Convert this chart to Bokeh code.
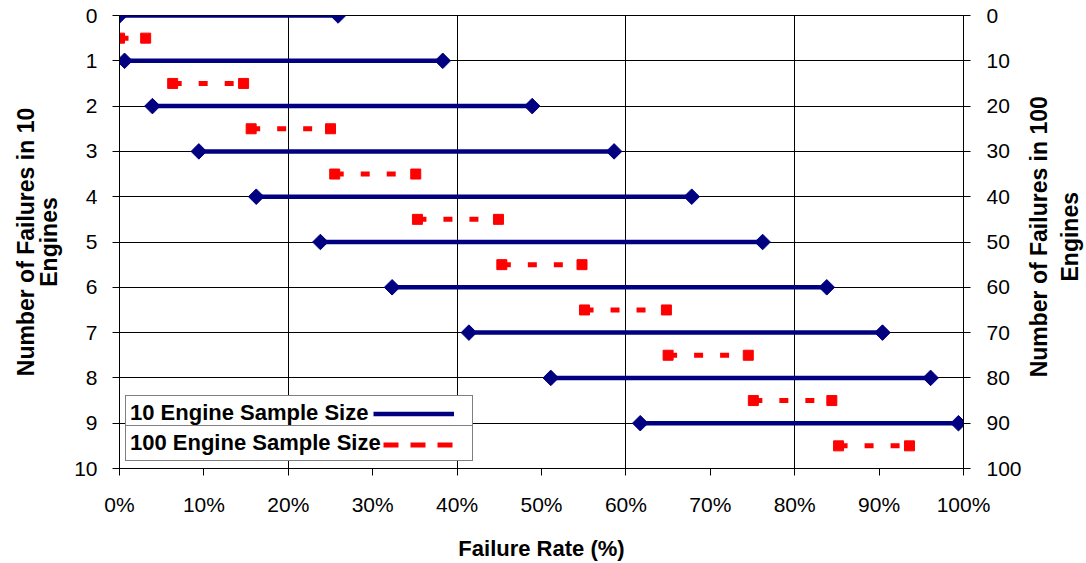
import math
from bokeh.plotting import figure
from bokeh.layouts import row
from bokeh.models import Range1d, LinearAxis, FixedTicker, Legend, LegendItem, ColumnDataSource, Label
from bokeh.embed import file_html
from bokeh.resources import INLINE

# ---------------- data ----------------
x_ticks = [0, 10, 20, 30, 40, 50, 60, 70, 80, 90, 100]
x_tick_labels = ["0%", "10%", "20%", "30%", "40%", "50%", "60%", "70%", "80%", "90%", "100%"]
x_grid_ticks = [20, 40, 60, 80]
left_ticks = [0, 1, 2, 3, 4, 5, 6, 7, 8, 9, 10]
right_ticks = [0, 10, 20, 30, 40, 50, 60, 70, 80, 90, 100]

ten_failures = [0, 1, 2, 3, 4, 5, 6, 7, 8, 9]
ten_low = [0.0, 0.6, 3.9, 9.4, 16.2, 23.8, 32.3, 41.4, 51.1, 61.7]
ten_high = [25.9, 38.3, 48.9, 58.6, 67.8, 76.2, 83.8, 90.4, 96.1, 99.4]

hundred_failures = [5, 15, 25, 35, 45, 55, 65, 75, 85, 95]
hundred_low = [0.0, 6.3, 15.6, 25.5, 35.3, 45.3, 55.1, 65.0, 75.1, 85.2]
hundred_high = [3.1, 14.7, 25.0, 35.1, 44.9, 54.8, 64.8, 74.5, 84.4, 93.6]

series_labels = ["10 Engine Sample Size", "100 Engine Sample Size"]
x_title = "Failure Rate (%)"
left_title = "Number of Failures in 10\nEngines"
right_title_lines = ["Number of Failures in 100", "Engines"]

BLUE = "#000080"
RED = "#FF0000"
FONT = "Liberation Sans"

src10 = ColumnDataSource(dict(y=ten_failures, lo=ten_low, hi=ten_high))
src100 = ColumnDataSource(dict(y=hundred_failures, lo=hundred_low, hi=hundred_high))

MAIN_W = 1026
TITLE_W = 1086 - MAIN_W
H = 563

p = figure(width=MAIN_W, height=H,
           x_range=Range1d(0, 100), y_range=Range1d(10, 0),
           output_backend="svg", toolbar_location=None,
           min_border_left=119, min_border_right=MAIN_W - 963,
           min_border_top=15, min_border_bottom=H - 469)
p.extra_y_ranges = {"right": Range1d(100, 0)}
p.background_fill_color = "white"
p.border_fill_color = "white"
p.outline_line_color = "black"
p.outline_line_width = 1

right_axis = LinearAxis(y_range_name="right", ticker=FixedTicker(ticks=right_ticks))
p.add_layout(right_axis, "right")

p.xaxis[0].ticker = FixedTicker(ticks=x_ticks)
p.xaxis[0].major_label_overrides = {t: l for t, l in zip(x_ticks, x_tick_labels)}
p.yaxis[0].ticker = FixedTicker(ticks=left_ticks)

p.xaxis[0].axis_label = x_title
p.yaxis[0].axis_label = left_title

for ax in [p.xaxis[0], p.yaxis[0], right_axis]:
    ax.major_label_text_font = FONT
    ax.major_label_text_font_size = "21px"
    ax.major_label_text_color = "black"
    ax.axis_label_text_font = FONT
    ax.axis_label_text_font_size = "22px"
    ax.axis_label_text_font_style = "bold"
    ax.axis_label_text_color = "black"
    ax.axis_line_color = "black"
    ax.axis_line_width = 1
    ax.major_tick_line_color = "black"
    ax.major_tick_out = 7
    ax.major_tick_in = 0
    ax.minor_tick_out = 0
    ax.minor_tick_in = 0

p.yaxis[0].axis_label_text_font_size = "23px"
p.yaxis[0].axis_label_text_line_height = 0.9

p.xaxis[0].major_label_standoff = 17
p.xaxis[0].axis_label_standoff = 17
p.yaxis[0].major_label_standoff = 15
p.yaxis[0].axis_label_standoff = 9
right_axis.major_label_standoff = 16

p.xgrid.ticker = FixedTicker(ticks=x_grid_ticks)
p.xgrid.grid_line_color = "black"
p.xgrid.grid_line_width = 1
p.ygrid.grid_line_color = "black"
p.ygrid.grid_line_width = 1

# 10 engine series
p.segment(x0="lo", y0="y", x1="hi", y1="y", source=src10,
          line_color=BLUE, line_width=4.5)
p.scatter(x="lo", y="y", source=src10, marker="square", angle=math.pi / 4,
          size=11, fill_color=BLUE, line_color=BLUE)
p.scatter(x="hi", y="y", source=src10, marker="square", angle=math.pi / 4,
          size=11, fill_color=BLUE, line_color=BLUE)

# 100 engine series
p.segment(x0="lo", y0="y", x1="hi", y1="y", source=src100, y_range_name="right",
          line_color=RED, line_width=5, line_dash="9 17")
p.scatter(x="lo", y="y", source=src100, y_range_name="right", marker="square",
          size=10, fill_color=RED, line_color=RED)
p.scatter(x="hi", y="y", source=src100, y_range_name="right", marker="square",
          size=10, fill_color=RED, line_color=RED)

# legend-only renderers (same data, not drawn in the plot; only their legend swatch is used)
leg_blue = p.segment(x0="lo", y0="y", x1="hi", y1="y", source=src10,
                     line_color=BLUE, line_width=4.5, visible=False)
leg_red = p.segment(x0="lo", y0="y", x1="hi", y1="y", source=src100, y_range_name="right",
                    line_color=RED, line_width=5, line_dash="15 12",
                    line_dash_offset=17, visible=False)


def box_legend(label, renderer, ypos):
    lg = Legend(items=[LegendItem(label=label, renderers=[renderer])],
                location=(6, ypos), orientation="vertical",
                padding=4, spacing=0, margin=0,
                glyph_width=0, glyph_height=23, label_height=23,
                label_width=338, label_standoff=0,
                border_line_color="black", border_line_width=1,
                background_fill_color="white", background_fill_alpha=1,
                inactive_fill_alpha=0,
                label_text_font=FONT, label_text_font_style="bold",
                label_text_font_size="22px", label_text_color="black")
    p.add_layout(lg, "center")


box_legend(series_labels[0], leg_blue, 37)
box_legend(series_labels[1], leg_red, 7)

glyph_legend = Legend(items=[LegendItem(label=" ", renderers=[leg_blue]),
                             LegendItem(label=" ", renderers=[leg_red])],
                      location=(254, 8), orientation="vertical",
                      padding=0, spacing=0, margin=0,
                      glyph_width=81, glyph_height=31, label_height=31,
                      label_width=0, label_standoff=0,
                      label_text_font_size="1px",
                      inactive_fill_alpha=0,
                      border_line_color=None, background_fill_alpha=0)
p.add_layout(glyph_legend, "center")

# narrow companion figure holding the right-hand axis title (reads bottom to top)
t = figure(width=TITLE_W, height=H, x_range=Range1d(0, TITLE_W), y_range=Range1d(H, 0),
           output_backend="svg", toolbar_location=None,
           x_axis_location=None, y_axis_location=None,
           min_border=0, min_border_left=0, min_border_right=0,
           min_border_top=0, min_border_bottom=0)
t.outline_line_color = None
t.grid.visible = False
t.background_fill_color = "white"
t.border_fill_color = "white"
for txt, xpos in zip(right_title_lines, [12, 43]):
    t.add_layout(Label(x=xpos, y=275, text=txt, angle=math.pi / 2,
                       text_align="center", text_baseline="middle",
                       text_font=FONT, text_font_style="bold", text_font_size="23px",
                       text_color="black"))

layout = row(p, t, spacing=0)
open("out.html", "w").write(file_html(layout, INLINE))
